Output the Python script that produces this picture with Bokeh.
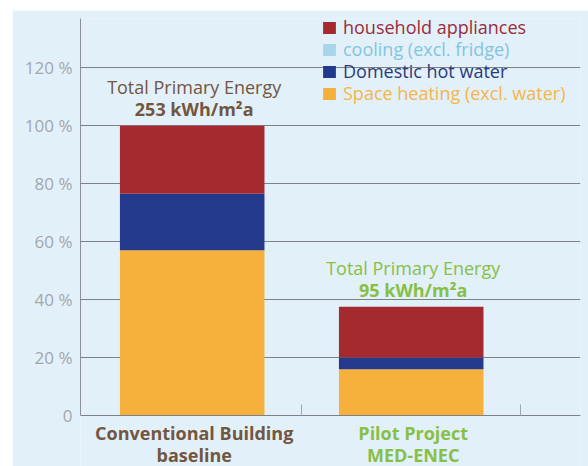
from bokeh.plotting import figure
from bokeh.models import (ColumnDataSource, FixedTicker, LabelSet, Legend, LegendItem, Range1d)
from bokeh.core.properties import value
from bokeh.embed import file_html
from bokeh.resources import INLINE

# ---- data ----
categories = ["Conventional Building\nbaseline", "Pilot Project\nMED-ENEC"]
space_heating = [57.0, 16.0]
domestic_hot_water = [19.5, 4.0]
cooling = [0.0, 0.0]
household_appliances = [23.5, 17.5]
total_energy_labels = ["253 kWh/m\u00b2a", "95 kWh/m\u00b2a"]
y_ticks = [0, 20, 40, 60, 80, 100, 120]
y_tick_labels = ["0", "20 %", "40 %", "60 %", "80 %", "100 %", "120 %"]
series_names = ["household appliances", "cooling (excl. fridge)",
                "Domestic hot water", "Space heating (excl. water)"]

# ---- styles ----
FONT = "Open Sans"
BG = "#e2f0fa"
C_APPL = "#a52a2f"
C_COOL = "#a9d5ea"
C_DHW = "#233a8c"
C_SH = "#f6b03c"
T_APPL = "#9b2c3a"
T_COOL = "#84c5de"
T_DHW = "#2a3a7e"
T_SH = "#f7b548"
BROWN = "#735640"
GREEN = "#88bf45"
GRID = "#7c8287"
label_colors = [BROWN, GREEN]

n = len(categories)
xs = [i + 0.5 for i in range(n)]
totals = [a + b + c + d for a, b, c, d in zip(space_heating, domestic_hot_water, cooling, household_appliances)]
cat_line1 = [c.split("\n")[0] for c in categories]
cat_line2 = [c.split("\n")[1] for c in categories]

src = ColumnDataSource(dict(
    x=xs, sh=space_heating, dhw=domestic_hot_water, cool=cooling, appl=household_appliances,
    total=totals, total_lbl=total_energy_labels, cat1=cat_line1, cat2=cat_line2,
    zero=[0] * n,
    tpe=["Total Primary Energy"] * n,
    lbl_color=label_colors,
))

Y_TOP = 137
# frame is extended below zero so that the category labels live inside it
p = figure(width=576, height=456, output_backend="svg", toolbar_location=None,
           x_range=Range1d(-0.01, 2.273), y_range=Range1d(-17.6, Y_TOP),
           min_border_left=68, min_border_right=8, min_border_top=8, min_border_bottom=0)
p.styles = {"margin-left": "12px", "margin-top": "10px"}
p.background_fill_color = BG
p.border_fill_color = BG
p.outline_line_color = None

renderers = p.vbar_stack(["sh", "dhw", "cool", "appl"], x="x", width=0.66, source=src,
                         color=[C_SH, C_DHW, C_COOL, C_APPL], line_color=None)
r_sh, r_dhw, r_cool, r_appl = renderers

# axes
p.xgrid.visible = False
p.ygrid.ticker = FixedTicker(ticks=y_ticks)
p.ygrid.grid_line_color = GRID
p.ygrid.grid_line_width = 1

ya = p.yaxis[0]
ya.bounds = (0, Y_TOP)
ya.ticker = FixedTicker(ticks=y_ticks)
ya.major_label_overrides = {t: l for t, l in zip(y_ticks, y_tick_labels)}
ya.major_tick_out = 0
ya.major_tick_in = 0
ya.minor_tick_out = 0
ya.minor_tick_in = 0
ya.axis_line_color = "#8a9096"
ya.major_label_text_color = "#a2a6aa"
ya.major_label_text_font = FONT
ya.major_label_text_font_size = "17px"
ya.major_label_standoff = 8

xa = p.xaxis[0]
xa.fixed_location = 0
xa.ticker = FixedTicker(ticks=[i + 1 for i in range(n)])
xa.major_label_overrides = {i + 1: "" for i in range(n)}
xa.major_tick_out = 0
xa.major_tick_in = 11
xa.major_tick_line_color = "#a0a6ac"
xa.minor_tick_out = 0
xa.minor_tick_in = 0
xa.axis_line_color = GRID
xa.major_label_text_font_size = "1px"

# annotations above bars
p.add_layout(LabelSet(x="x", y="total", text="tpe", source=src, y_offset=32, x_offset=2,
                      text_align="center", text_baseline="alphabetic",
                      text_color="lbl_color", text_font=value(FONT), text_font_size="18px"))
p.add_layout(LabelSet(x="x", y="total", text="total_lbl", source=src, y_offset=10, x_offset=2,
                      text_align="center", text_baseline="alphabetic",
                      text_color="lbl_color", text_font=value(FONT), text_font_size="18px",
                      text_font_style="bold"))

# category labels under the baseline (two lines each)
for col_name, off in (("cat1", -18), ("cat2", -40)):
    p.add_layout(LabelSet(x="x", y="zero", text=col_name, source=src, y_offset=off, x_offset=2,
                          text_align="center", text_baseline="middle",
                          text_color="lbl_color", text_font=value(FONT), text_font_size="18px",
                          text_font_style="bold"))

# legend: one entry per legend so each label keeps its own colour
legend_specs = [(series_names[0], r_appl, T_APPL),
                (series_names[1], r_cool, T_COOL),
                (series_names[2], r_dhw, T_DHW),
                (series_names[3], r_sh, T_SH)]
for i, (name, rend, tc) in enumerate(legend_specs):
    lg = Legend(items=[LegendItem(label=name, renderers=[rend])],
                location=(241, 427 - 22 * i),
                glyph_width=16, glyph_height=15, label_height=15, label_width=10,
                label_standoff=6, padding=0, margin=0, spacing=0,
                label_text_color=tc, label_text_font=FONT, label_text_font_size="18px",
                background_fill_alpha=0, border_line_alpha=0)
    p.add_layout(lg)

open("out.html", "w").write(file_html(p, INLINE))
